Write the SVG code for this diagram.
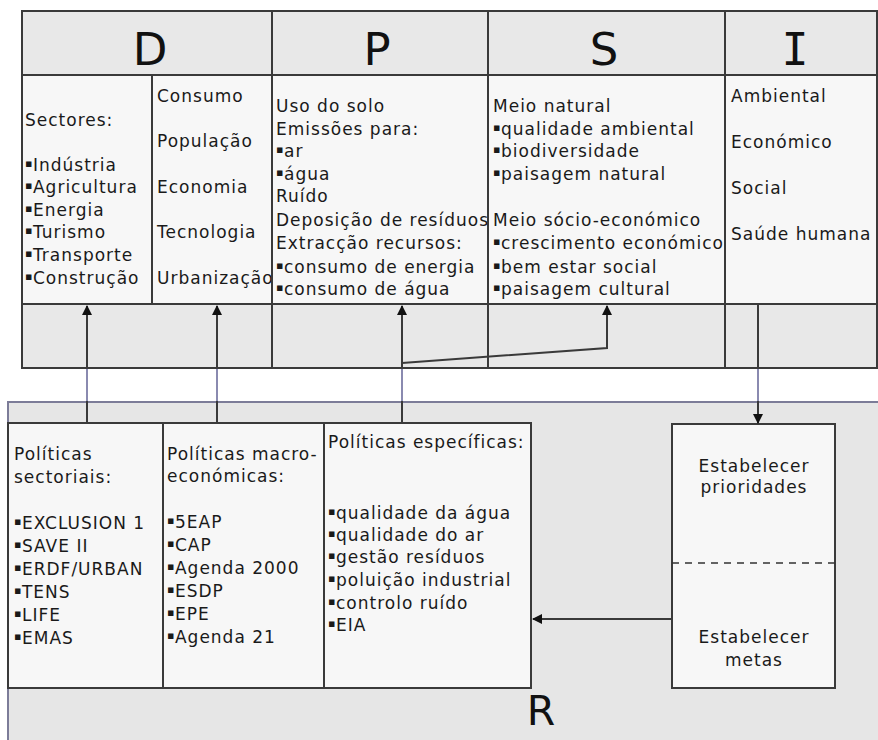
<svg xmlns="http://www.w3.org/2000/svg" width="878" height="740" viewBox="0 0 878 740">
<style>
.t{font-family:"DejaVu Sans",Verdana,sans-serif;font-size:17px;fill:#1a1a1a;letter-spacing:1px}
.tc{text-anchor:middle}
.b{font-size:11px;letter-spacing:0.5px}
.h{font-family:"DejaVu Sans",sans-serif;font-size:45px;fill:#111;text-anchor:middle}
.hm{font-family:"DejaVu Sans Mono",monospace;font-size:45px;fill:#111;text-anchor:middle}
.hd{fill:#e8e8e8;stroke:#3a3a3a;stroke-width:2}
.cell{fill:#f7f7f7;stroke:#3a3a3a;stroke-width:2}
.low{fill:#e8e8e8;stroke:#3a3a3a;stroke-width:2}
.ln{stroke:#3a3a3a;stroke-width:2;fill:none}
.lv{stroke:#8a8ab0;stroke-width:2;fill:none}
</style>
<defs>
<marker id="ah" markerWidth="10" markerHeight="10" refX="9" refY="5" orient="auto" markerUnits="userSpaceOnUse">
<path d="M0,0 L10,5 L0,10 Z" fill="#111"/>
</marker>
</defs>
<rect width="878" height="740" fill="#fff"/>

<g id="R">
<rect x="8" y="402" width="872" height="345" fill="#e6e6e6" stroke="#7c7c98" stroke-width="2"/>
<text class="h" x="541" y="725" style="font-size:41px">R</text>
</g>

<g id="D">
<rect class="hd" x="22" y="11" width="250" height="64"/>
<text class="h" x="150" y="65">D</text>
<rect class="cell" x="22" y="75" width="130" height="229"/>
<rect class="cell" x="152" y="75" width="120" height="229"/>
<rect class="low" x="22" y="304" width="250" height="64"/>
<text class="t" x="25" y="126">Sectores:</text>
<text class="t" x="25" y="171"><tspan class="b" baseline-shift="4">▪</tspan>Indústria</text>
<text class="t" x="25" y="193"><tspan class="b" baseline-shift="4">▪</tspan>Agricultura</text>
<text class="t" x="25" y="216"><tspan class="b" baseline-shift="4">▪</tspan>Energia</text>
<text class="t" x="25" y="238"><tspan class="b" baseline-shift="4">▪</tspan>Turismo</text>
<text class="t" x="25" y="261"><tspan class="b" baseline-shift="4">▪</tspan>Transporte</text>
<text class="t" x="25" y="284"><tspan class="b" baseline-shift="4">▪</tspan>Construção</text>
<text class="t" x="157" y="102">Consumo</text>
<text class="t" x="157" y="147">População</text>
<text class="t" x="157" y="193">Economia</text>
<text class="t" x="157" y="238">Tecnologia</text>
<text class="t" x="157" y="284">Urbanização</text>
</g>

<g id="P">
<rect class="hd" x="272" y="11" width="216" height="64"/>
<text class="h" x="377" y="65">P</text>
<rect class="cell" x="272" y="75" width="216" height="229"/>
<rect class="low" x="272" y="304" width="216" height="64"/>
<text class="t" x="276" y="112">Uso do solo</text>
<text class="t" x="276" y="135">Emissões para:</text>
<text class="t" x="276" y="157"><tspan class="b" baseline-shift="4">▪</tspan>ar</text>
<text class="t" x="276" y="180"><tspan class="b" baseline-shift="4">▪</tspan>água</text>
<text class="t" x="276" y="202">Ruído</text>
<text class="t" x="276" y="226">Deposição de resíduos</text>
<text class="t" x="276" y="249">Extracção recursos:</text>
<text class="t" x="276" y="273"><tspan class="b" baseline-shift="4">▪</tspan>consumo de energia</text>
<text class="t" x="276" y="295"><tspan class="b" baseline-shift="4">▪</tspan>consumo de água</text>
</g>

<g id="S">
<rect class="hd" x="488" y="11" width="237" height="64"/>
<text class="h" x="604" y="65">S</text>
<rect class="low" x="488" y="304" width="237" height="64"/>
<rect class="cell" x="488" y="75" width="237" height="229"/>
<text class="t" x="493" y="112">Meio natural</text>
<text class="t" x="493" y="135"><tspan class="b" baseline-shift="4">▪</tspan>qualidade ambiental</text>
<text class="t" x="493" y="157"><tspan class="b" baseline-shift="4">▪</tspan>biodiversidade</text>
<text class="t" x="493" y="180"><tspan class="b" baseline-shift="4">▪</tspan>paisagem natural</text>
<text class="t" x="493" y="226">Meio sócio-económico</text>
<text class="t" x="493" y="249"><tspan class="b" baseline-shift="4">▪</tspan>crescimento económico</text>
<text class="t" x="493" y="273"><tspan class="b" baseline-shift="4">▪</tspan>bem estar social</text>
<text class="t" x="493" y="295"><tspan class="b" baseline-shift="4">▪</tspan>paisagem cultural</text>
</g>

<g id="I">
<rect class="hd" x="725" y="11" width="152" height="64"/>
<text class="hm" x="795" y="65">I</text>
<rect class="cell" x="725" y="75" width="152" height="229"/>
<rect class="low" x="725" y="304" width="152" height="64"/>
<text class="t" x="731" y="102">Ambiental</text>
<text class="t" x="731" y="148">Económico</text>
<text class="t" x="731" y="194">Social</text>
<text class="t" x="731" y="240">Saúde humana</text>
</g>

<g id="sectoriais">
<rect class="cell" x="8" y="423" width="155" height="265"/>
<text class="t" x="14" y="460">Políticas</text>
<text class="t" x="14" y="483">sectoriais:</text>
<text class="t" x="14" y="529"><tspan class="b" baseline-shift="4">▪</tspan>EXCLUSION 1</text>
<text class="t" x="14" y="552"><tspan class="b" baseline-shift="4">▪</tspan>SAVE II</text>
<text class="t" x="14" y="575"><tspan class="b" baseline-shift="4">▪</tspan>ERDF/URBAN</text>
<text class="t" x="14" y="598"><tspan class="b" baseline-shift="4">▪</tspan>TENS</text>
<text class="t" x="14" y="621"><tspan class="b" baseline-shift="4">▪</tspan>LIFE</text>
<text class="t" x="14" y="644"><tspan class="b" baseline-shift="4">▪</tspan>EMAS</text>
</g>

<g id="macro">
<rect class="cell" x="163" y="423" width="161" height="265"/>
<text class="t" x="167" y="460">Políticas macro-</text>
<text class="t" x="167" y="482">económicas:</text>
<text class="t" x="167" y="528"><tspan class="b" baseline-shift="4">▪</tspan>5EAP</text>
<text class="t" x="167" y="551"><tspan class="b" baseline-shift="4">▪</tspan>CAP</text>
<text class="t" x="167" y="574"><tspan class="b" baseline-shift="4">▪</tspan>Agenda 2000</text>
<text class="t" x="167" y="597"><tspan class="b" baseline-shift="4">▪</tspan>ESDP</text>
<text class="t" x="167" y="620"><tspan class="b" baseline-shift="4">▪</tspan>EPE</text>
<text class="t" x="167" y="643"><tspan class="b" baseline-shift="4">▪</tspan>Agenda 21</text>
</g>

<g id="especificas">
<rect class="cell" x="324" y="423" width="207" height="265"/>
<text class="t" x="328" y="448">Políticas específicas:</text>
<text class="t" x="328" y="519"><tspan class="b" baseline-shift="4">▪</tspan>qualidade da água</text>
<text class="t" x="328" y="541"><tspan class="b" baseline-shift="4">▪</tspan>qualidade do ar</text>
<text class="t" x="328" y="563"><tspan class="b" baseline-shift="4">▪</tspan>gestão resíduos</text>
<text class="t" x="328" y="586"><tspan class="b" baseline-shift="4">▪</tspan>poluição industrial</text>
<text class="t" x="328" y="609"><tspan class="b" baseline-shift="4">▪</tspan>controlo ruído</text>
<text class="t" x="328" y="631"><tspan class="b" baseline-shift="4">▪</tspan>EIA</text>
</g>

<g id="metas">
<rect class="cell" x="672" y="424" width="163" height="264"/>
<line x1="672" y1="563" x2="835" y2="563" stroke="#333" stroke-width="1.5" stroke-dasharray="7,6"/>
<text class="t tc" x="754" y="472">Estabelecer</text>
<text class="t tc" x="754" y="493">prioridades</text>
<text class="t tc" x="754" y="643">Estabelecer</text>
<text class="t tc" x="754" y="666">metas</text>
</g>

<g id="connectors">
<line class="ln" x1="87" y1="423" x2="87" y2="306" marker-end="url(#ah)"/>
<line class="lv" x1="87" y1="369" x2="87" y2="401"/>
<line class="ln" x1="217" y1="423" x2="217" y2="306" marker-end="url(#ah)"/>
<line class="lv" x1="217" y1="369" x2="217" y2="401"/>
<line class="ln" x1="402" y1="423" x2="402" y2="306" marker-end="url(#ah)"/>
<line class="lv" x1="402" y1="369" x2="402" y2="401"/>
<polyline class="ln" points="402,363 607,348 607,306" marker-end="url(#ah)"/>
<line class="ln" x1="758" y1="304" x2="758" y2="423" marker-end="url(#ah)"/>
<line class="lv" x1="758" y1="369" x2="758" y2="401"/>
<line class="ln" x1="672" y1="619" x2="533" y2="619" marker-end="url(#ah)"/>
</g>
</svg>
